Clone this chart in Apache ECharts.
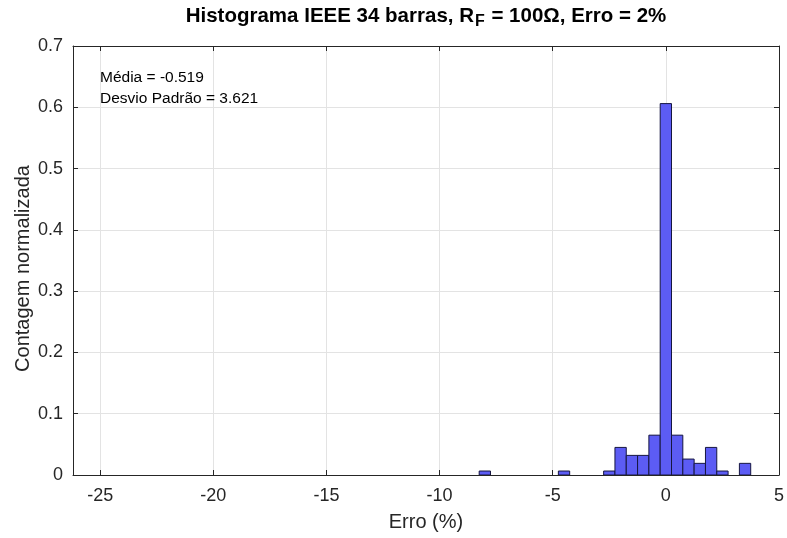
<!DOCTYPE html>
<html>
<head>
<meta charset="utf-8">
<script src="https://cdn.jsdelivr.net/npm/echarts@6/dist/echarts.min.js"></script>
<style>
  html, body { margin: 0; padding: 0; background: #fff; }
  #chart { width: 787px; height: 538px; }
</style>
</head>
<body>
<div id="chart"></div>
<script>
// Histogram bins: centre of each bin (Erro, %) and its normalised count
const binCenters = [-8, -4.5, -2.5, -2, -1.5, -1, -0.5, 0, 0.5, 1, 1.5, 2, 2.5, 3.5];
const binHeights = [0.0065, 0.0065, 0.0065, 0.045, 0.032, 0.032, 0.065, 0.606, 0.065, 0.026, 0.019, 0.045, 0.0065, 0.019];
const binWidth = 0.5;

// Axis ticks
const xTicks = [-25, -20, -15, -10, -5, 0, 5];
const xRange = [-26.2, 5];
const yRange = [0, 0.7];
const yStep = 0.1;

// Summary statistics shown inside the axes
const statLines = ['Média = -0.519', 'Desvio Padrão = 3.621'];

const FONT = '"Liberation Sans", Arial, Helvetica, sans-serif';
const AXIS_COLOR = '#262626';
const GRID_COLOR = '#e3e3e3';

const chart = echarts.init(document.getElementById('chart'), null, { renderer: 'canvas' });

const binData = binCenters.map((c, i) => [c, binHeights[i]]);

const commonX = {
  type: 'value',
  min: xRange[0],
  max: xRange[1],
  axisLine: { show: true, onZero: false, lineStyle: { color: AXIS_COLOR, width: 1 } },
  axisTick: { show: true, inside: true, length: 5, customValues: xTicks, lineStyle: { color: AXIS_COLOR } },
  minorTick: { show: false }
};

const commonY = {
  type: 'value',
  min: yRange[0],
  max: yRange[1],
  interval: yStep,
  axisLine: { show: true, onZero: false, lineStyle: { color: AXIS_COLOR, width: 1 } },
  axisTick: { show: true, inside: true, length: 5, lineStyle: { color: AXIS_COLOR } }
};

const option = {
  backgroundColor: '#ffffff',
  animation: false,
  title: {
    left: 421,
    textAlign: 'center',
    top: 0,
    text: '{b|Histograma IEEE 34 barras, R}{s|F}{b| = 100Ω, Erro = 2%}',
    textStyle: {
      rich: {
        b: { fontFamily: FONT, fontSize: 20.5, fontWeight: 'bold', color: '#000', lineHeight: 26, verticalAlign: 'top', padding: [1, 0, 0, 0] },
        s: { fontFamily: FONT, fontSize: 16, fontWeight: 'bold', color: '#000', lineHeight: 26, verticalAlign: 'top', padding: [9, 1, 0, 1] }
      }
    }
  },
  grid: { left: 73, right: 7, top: 46, bottom: 63, containLabel: false },
  xAxis: [
    Object.assign({}, commonX, {
      position: 'bottom',
      name: 'Erro (%)',
      nameLocation: 'middle',
      nameGap: 37,
      nameMoveOverlap: false,
      nameTextStyle: { fontFamily: FONT, fontSize: 20, color: AXIS_COLOR },
      axisLabel: { show: true, customValues: xTicks, margin: 12, fontFamily: FONT, fontSize: 18, color: AXIS_COLOR },
      splitLine: { show: true, lineStyle: { color: GRID_COLOR, width: 1 } }
    }),
    Object.assign({}, commonX, {
      position: 'top',
      axisLabel: { show: false },
      splitLine: { show: false }
    })
  ],
  yAxis: [
    Object.assign({}, commonY, {
      position: 'left',
      name: 'Contagem normalizada',
      nameLocation: 'middle',
      nameGap: 40,
      nameMoveOverlap: false,
      nameTextStyle: { fontFamily: FONT, fontSize: 20, color: AXIS_COLOR, padding: [0, 0, 0, -16] },
      axisLabel: { show: true, margin: 10, fontFamily: FONT, fontSize: 18, color: AXIS_COLOR },
      splitLine: { show: true, lineStyle: { color: GRID_COLOR, width: 1 } }
    }),
    Object.assign({}, commonY, {
      position: 'right',
      axisLabel: { show: false },
      splitLine: { show: false }
    })
  ],
  graphic: statLines.map((t, i) => ({
    type: 'text',
    x: 100,
    y: 78 + i * 21,
    style: { text: t, fontFamily: FONT, fontSize: 15.5, fill: '#000', verticalAlign: 'middle', align: 'left' },
    z: 100
  })),
  series: [{
    type: 'custom',
    xAxisIndex: 0,
    yAxisIndex: 0,
    data: binData,
    clip: true,
    renderItem: function (params, api) {
      const c = api.value(0);
      const h = api.value(1);
      const p0 = api.coord([c - binWidth / 2, h]);
      const p1 = api.coord([c + binWidth / 2, 0]);
      return {
        type: 'rect',
        shape: { x: p0[0], y: p0[1], width: p1[0] - p0[0], height: p1[1] - p0[1] },
        style: { fill: '#5c5cf4', stroke: '#161640', lineWidth: 1 }
      };
    }
  }]
};

chart.setOption(option);
</script>
</body>
</html>
